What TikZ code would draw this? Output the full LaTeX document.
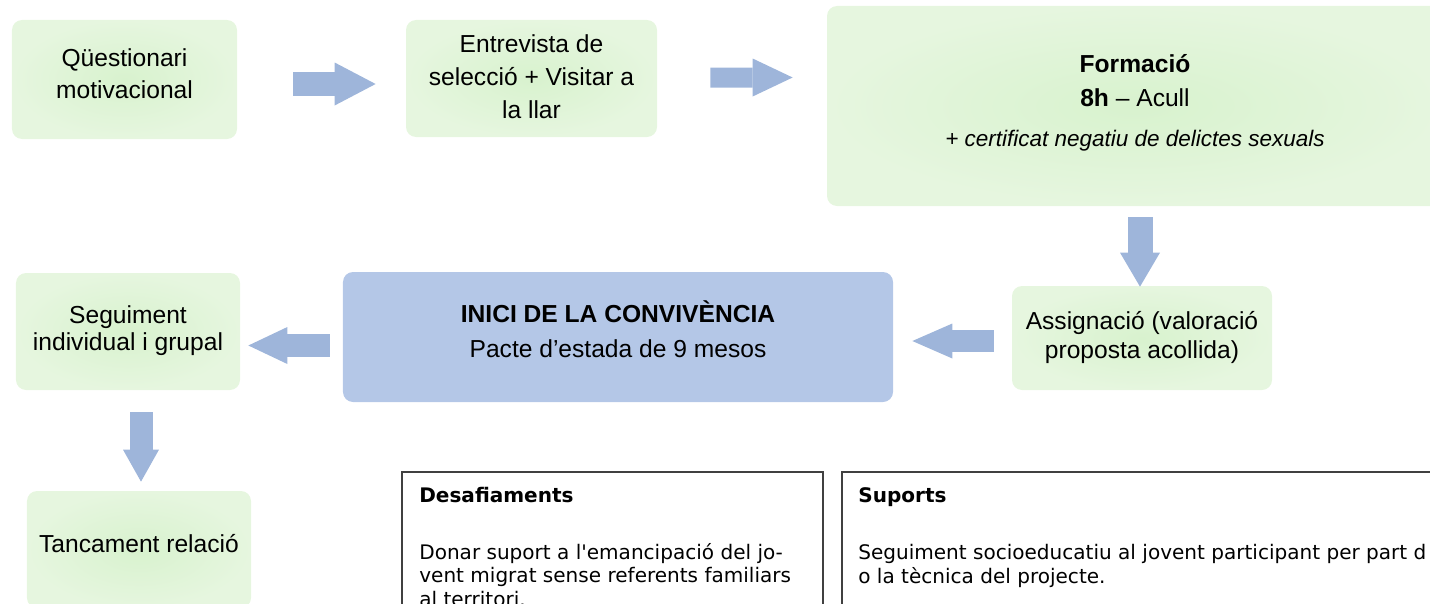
\documentclass[tikz,border=0pt]{standalone}
\usepackage{fontspec}
\setmainfont{Liberation Sans}
\newfontfamily\framefont{DejaVu Sans}
\usetikzlibrary{arrows.meta,calc}
\definecolor{greenin}{RGB}{216,242,206}
\definecolor{greenout}{RGB}{230,246,223}
\definecolor{inicblue}{RGB}{180,199,231}
\definecolor{arrowblue}{RGB}{158,181,218}
\definecolor{framegray}{RGB}{64,64,64}

\begin{document}
\begin{tikzpicture}[x=0.2mm, y=-0.2mm,
    greenbox/.style={inner color=greenin, outer color=greenout, rounded corners=2mm, align=center, text depth=0mm},
    framebox/.style={draw=framegray, line width=0.35mm, anchor=north west, minimum height=32mm},
    frametext/.style={anchor=base west, inner sep=0pt, align=left, font=\framefont\fontsize{11.4}{13.1}\selectfont},
    blockarr/.style n args={3}{line width=#1, arrowblue, -{Triangle[length=#2, width=#3, line width=0pt]}}]
    \useasboundingbox (0,0) rectangle (1430,604);
    \clip (0,0) rectangle (1430,604);

    \node[greenbox, minimum width=45mm, minimum height=23.8mm, text height=7.4mm, font=\fontsize{14}{18.2}\selectfont] (quest) at (124.5,79.5) {Qüestionari\\motivacional};
    \node[greenbox, minimum width=50.2mm, minimum height=23.4mm, text height=15.8mm, font=\fontsize{14}{18.5}\selectfont] (entrevista) at (531.5,78.5) {Entrevista de\\selecció + Visitar a\\la llar};
    \node[greenbox, minimum width=123.2mm, minimum height=40mm, text height=16mm, font=\fontsize{14}{19.4}\selectfont] (formacio) at (1135,106) {\textbf{Formació}\\\textbf{8h} – Acull\\[2.8pt]{\fontsize{12.8}{19.4}\selectfont\itshape + certificat negatiu de delictes sexuals}};
    \node[greenbox, minimum width=52mm, minimum height=20.8mm, text height=8mm, font=\fontsize{14}{16.5}\selectfont] (assignacio) at (1142,338) {Assignació (valoració\\proposta acollida)};
    \node[fill=inicblue, rounded corners=2mm, align=center, minimum width=110mm, minimum height=26mm, text height=8mm, text depth=0mm, font=\fontsize{14}{19.4}\selectfont] (inici) at (618,337) {\textbf{INICI DE LA CONVIVÈNCIA}\\Pacte d'estada de 9 mesos};
    \node[greenbox, minimum width=44.8mm, minimum height=23.4mm, text height=7.4mm, font=\fontsize{14}{14.8}\selectfont] (seguiment) at (128,331.5) {Seguiment\\individual i grupal};
    \node[greenbox, minimum width=44.8mm, minimum height=23.4mm, text height=4mm, text depth=3mm, font=\fontsize{14}{17}\selectfont] (tancament) at (139,549.5) {Tancament relació};

    \draw[blockarr={4.8mm}{8.2mm}{8.6mm}] ($(quest.east)+(56,4.5)$) -- ($(entrevista.west)+(-30,5.5)$);
    \draw[blockarr={4mm}{8mm}{7.6mm}] ($(entrevista.east)+(53,-1)$) -- ($(formacio.west)+(-34,-28.5)$);
    \draw[blockarr={5mm}{6.8mm}{8mm}] ($(formacio.south)+(5,11)$) -- ($(assignacio.north)+(-2,1)$);
    \draw[blockarr={4.4mm}{8mm}{7mm}] ($(assignacio.west)+(-18,3)$) -- ($(inici.east)+(19,4)$);
    \draw[blockarr={4.6mm}{7.8mm}{7.4mm}] ($(inici.west)+(-13,8.5)$) -- ($(seguiment.east)+(8,14)$);
    \draw[blockarr={4.6mm}{6.4mm}{7.2mm}] ($(seguiment.south)+(13,22)$) -- ($(tancament.north)+(2,-9)$);

    \node[framebox, minimum width=84.2mm] (desafiaments) at (401,471) {};
    \node[framebox, minimum width=140mm] (suports) at (841,471) {};
    \node[frametext, font=\framefont\fontsize{11.4}{13.1}\selectfont\bfseries] (desaftitle) at (419,502) {Desafiaments};
    \node[frametext] (desaftext) at (419,606) {Donar suport a l'emancipació del jo-\\vent migrat sense referents familiars\\al territori.};
    \node[frametext, font=\framefont\fontsize{11.4}{13.1}\selectfont\bfseries] (suptitle) at (858,502) {Suports};
    \node[frametext] (suptext) at (858,583) {Seguiment socioeducatiu al jovent participant per part d\\o la tècnica del projecte.};
\end{tikzpicture}
\end{document}
